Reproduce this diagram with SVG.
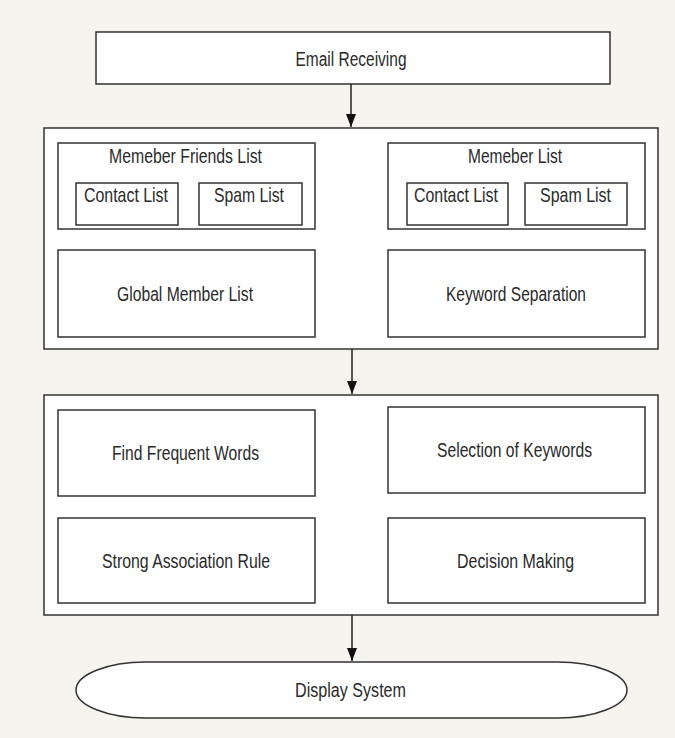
<svg xmlns="http://www.w3.org/2000/svg" width="675" height="738" viewBox="0 0 675 738">
  <style>
    .box { fill: #ffffff; stroke: #333333; stroke-width: 1.5; }
    .lbl { font-family: "Liberation Sans", Arial, sans-serif; font-size: 19.5px; fill: #2a2a2a; text-anchor: middle; }
    .big { font-size: 21px; }
    .conn { stroke: #222222; stroke-width: 1.5; fill: none; }
  </style>
  <defs>
    <marker id="arrowDown" markerUnits="userSpaceOnUse" markerWidth="14" markerHeight="10" viewBox="0 0 14 10" refX="13" refY="5" orient="auto">
      <path d="M0,0 L13,5 L0,10 Z" fill="#111111"/>
    </marker>
  </defs>
  <rect width="675" height="738" fill="#f6f4ef"/>

  <g id="email-receiving">
    <rect class="box" x="96" y="32" width="514" height="52"/>
    <text class="lbl" x="351" y="66" textLength="111" lengthAdjust="spacingAndGlyphs">Email Receiving</text>
  </g>

  <g id="filter-stage">
    <rect class="box" x="44" y="128" width="614" height="221"/>
  </g>

  <g id="member-friends-list">
    <rect class="box" x="58" y="143" width="257" height="86"/>
    <text class="lbl" x="185.5" y="163" textLength="153" lengthAdjust="spacingAndGlyphs">Memeber Friends List</text>
  </g>
  <g id="friends-contact-list">
    <rect class="box" x="76" y="183" width="102" height="42"/>
    <text class="lbl big" x="126" y="202" textLength="84" lengthAdjust="spacingAndGlyphs">Contact List</text>
  </g>
  <g id="friends-spam-list">
    <rect class="box" x="199" y="183" width="103" height="42"/>
    <text class="lbl big" x="249" y="202" textLength="70" lengthAdjust="spacingAndGlyphs">Spam List</text>
  </g>

  <g id="member-list">
    <rect class="box" x="388" y="143" width="257" height="86"/>
    <text class="lbl" x="515" y="163" textLength="94" lengthAdjust="spacingAndGlyphs">Memeber List</text>
  </g>
  <g id="member-contact-list">
    <rect class="box" x="407" y="183" width="101" height="42"/>
    <text class="lbl big" x="456" y="202" textLength="84" lengthAdjust="spacingAndGlyphs">Contact List</text>
  </g>
  <g id="member-spam-list">
    <rect class="box" x="525" y="183" width="102" height="42"/>
    <text class="lbl big" x="575.5" y="202" textLength="71" lengthAdjust="spacingAndGlyphs">Spam List</text>
  </g>

  <g id="global-member-list">
    <rect class="box" x="58" y="250" width="257" height="87"/>
    <text class="lbl" x="185" y="301" textLength="136" lengthAdjust="spacingAndGlyphs">Global Member List</text>
  </g>
  <g id="keyword-separation">
    <rect class="box" x="388" y="250" width="257" height="87"/>
    <text class="lbl" x="516" y="301" textLength="140" lengthAdjust="spacingAndGlyphs">Keyword Separation</text>
  </g>

  <g id="analysis-stage">
    <rect class="box" x="44" y="395" width="614" height="220"/>
  </g>

  <g id="find-frequent-words">
    <rect class="box" x="58" y="410" width="257" height="86"/>
    <text class="lbl" x="185.5" y="460" textLength="147" lengthAdjust="spacingAndGlyphs">Find Frequent Words</text>
  </g>
  <g id="selection-of-keywords">
    <rect class="box" x="388" y="407" width="257" height="86"/>
    <text class="lbl" x="514.5" y="457" textLength="155" lengthAdjust="spacingAndGlyphs">Selection of Keywords</text>
  </g>
  <g id="strong-association-rule">
    <rect class="box" x="58" y="518" width="257" height="85"/>
    <text class="lbl" x="186" y="568" textLength="168" lengthAdjust="spacingAndGlyphs">Strong Association Rule</text>
  </g>
  <g id="decision-making">
    <rect class="box" x="388" y="518" width="257" height="85"/>
    <text class="lbl" x="515.5" y="568" textLength="117" lengthAdjust="spacingAndGlyphs">Decision Making</text>
  </g>

  <g id="display-system">
    <path class="box" d="M146,662 H557 A70,28 0 0 1 557,718 H146 A70,28 0 0 1 146,662 Z"/>
    <text class="lbl" x="350.5" y="697" textLength="111" lengthAdjust="spacingAndGlyphs">Display System</text>
  </g>

  <g id="connectors">
    <line class="conn" x1="351" y1="84" x2="351" y2="127" marker-end="url(#arrowDown)"/>
    <line class="conn" x1="352" y1="349" x2="352" y2="394" marker-end="url(#arrowDown)"/>
    <line class="conn" x1="352" y1="615" x2="352" y2="661" marker-end="url(#arrowDown)"/>
  </g>
</svg>
